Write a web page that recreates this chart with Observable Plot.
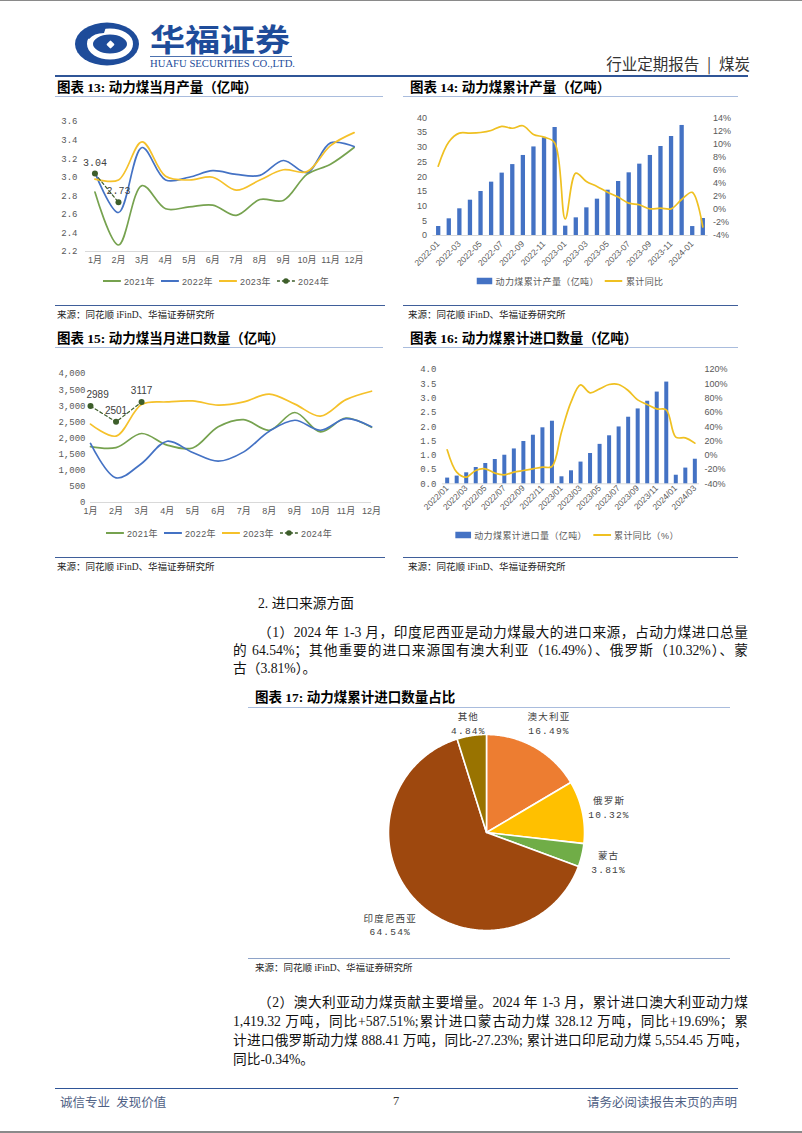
<!DOCTYPE html>
<html lang="zh">
<head>
<meta charset="utf-8">
<script src="https://cdn.jsdelivr.net/npm/d3@7"></script>
<script src="https://cdn.jsdelivr.net/npm/@observablehq/plot@0.6"></script>
<style>
html,body{margin:0;padding:0;background:#fff}
#page{position:relative;width:802px;height:1133px;overflow:hidden;background:#fff;font-family:"Liberation Serif","Noto Sans CJK SC",serif;color:#111}
.a{position:absolute;white-space:nowrap}
.hr{position:absolute;height:0}
.ttl{font-weight:bold;font-size:13.5px;line-height:14px;color:#000;transform:translateY(-50%)}
.src{font-size:9.5px;line-height:10px;color:#222;transform:translateY(-50%)}
.leg{position:absolute;display:flex;align-items:center;transform:translate(-50%,-50%);font-family:"Liberation Sans","Noto Sans CJK SC",sans-serif;font-size:9px;color:#595959;white-space:nowrap;letter-spacing:.4px}
.leg .it{display:flex;align-items:center;margin:0 3px}
.leg svg{margin-right:3px;display:block}
.pl{position:absolute}
.txt{position:absolute;font-size:13.7px;line-height:16px;text-align:justify;text-align-last:justify;white-space:nowrap;transform:translateY(-50%)}
.txt.last{text-align-last:left}
.foot{font-size:12.5px;color:#4f6185;transform:translateY(-50%)}
</style>
</head>
<body>
<div id="page">
  <div class="hr" style="left:0;top:0;width:802px;border-top:1.5px solid #8a8a8a"></div>
  <div class="hr" style="left:0;top:1131px;width:802px;border-top:2px solid #8a8a8a"></div>
  <svg class="a" style="left:0;top:0" width="802" height="80">
    <ellipse cx="107" cy="44" rx="32" ry="21.5" fill="#1E4C9A"/>
    <ellipse cx="110" cy="44" rx="20" ry="12.5" fill="none" stroke="#fff" stroke-width="6"/>
    <path d="M84 36 Q92 26 106 27 L104 33 Q94 33 89 39 Z" fill="#1E4C9A"/>
    <rect x="105" y="39" width="11" height="11" rx="2" transform="rotate(45 110.5 44.5)" fill="#1E4C9A"/>
    <rect x="107.5" y="41.5" width="6" height="6" rx="1" transform="rotate(45 110.5 44.5)" fill="#fff"/>
    <text x="150" y="51" font-family="Noto Sans CJK SC" font-weight="bold" font-size="31" fill="#1E4C9A" textLength="140" lengthAdjust="spacingAndGlyphs">华福证券</text>
    <line x1="150" y1="56.5" x2="292" y2="56.5" stroke="#1E4C9A" stroke-width="0.8"/>
    <text x="150" y="67" font-family="Liberation Serif" font-size="9.5" fill="#1E4C9A" textLength="145" lengthAdjust="spacingAndGlyphs">HUAFU SECURITIES CO.,LTD.</text>
    <text x="750" y="70" text-anchor="end" font-family="Noto Sans CJK SC" font-size="15.5" fill="#333">行业定期报告&#8194;|&#8194;煤炭</text>
  </svg>
  <div class="hr" style="left:55px;top:75px;width:693px;border-top:2px solid #2F5597"></div>

  <div class="a ttl" style="left:57px;top:88px">图表 13: 动力煤当月产量（亿吨）</div>
  <div class="a ttl" style="left:410px;top:88px">图表 14: 动力煤累计产量（亿吨）</div>
  <div class="hr" style="left:55px;top:96px;width:328px;border-top:1px solid #a9bcdd"></div>
  <div class="hr" style="left:403px;top:96px;width:335px;border-top:1px solid #a9bcdd"></div>

  <div class="hr" style="left:55px;top:305px;width:330px;border-top:1.5px solid #3f5e9a"></div>
  <div class="hr" style="left:403px;top:305px;width:335px;border-top:1.5px solid #3f5e9a"></div>
  <div class="a src" style="left:57px;top:315px">来源：同花顺 iFinD、华福证券研究所</div>
  <div class="a src" style="left:408px;top:315px">来源：同花顺 iFinD、华福证券研究所</div>

  <div class="a ttl" style="left:57px;top:339px">图表 15: 动力煤当月进口数量（亿吨）</div>
  <div class="a ttl" style="left:410px;top:339px">图表 16: 动力煤累计进口数量（亿吨）</div>
  <div class="hr" style="left:55px;top:347px;width:328px;border-top:1px solid #a9bcdd"></div>
  <div class="hr" style="left:403px;top:347px;width:335px;border-top:1px solid #a9bcdd"></div>

  <div class="hr" style="left:55px;top:557px;width:330px;border-top:1.5px solid #3f5e9a"></div>
  <div class="hr" style="left:403px;top:557px;width:335px;border-top:1.5px solid #3f5e9a"></div>
  <div class="a src" style="left:57px;top:567px">来源：同花顺 iFinD、华福证券研究所</div>
  <div class="a src" style="left:408px;top:567px">来源：同花顺 iFinD、华福证券研究所</div>

  <div class="a txt last" style="left:258px;top:604px">2. 进口来源方面</div>
  <div class="a txt" style="left:258px;top:633px;width:490px">（1）2024 年 1-3 月，印度尼西亚是动力煤最大的进口来源，占动力煤进口总量</div>
  <div class="a txt" style="left:233px;top:651px;width:515px">的 64.54%；其他重要的进口来源国有澳大利亚（16.49%）、俄罗斯（10.32%）、蒙</div>
  <div class="a txt last" style="left:233px;top:669px">古（3.81%）。</div>

  <div class="a ttl" style="left:255px;top:698px">图表 17: 动力煤累计进口数量占比</div>
  <div class="hr" style="left:248px;top:707px;width:482px;border-top:1px solid #a9bcdd"></div>

  <div class="hr" style="left:248px;top:958px;width:482px;border-top:1.5px solid #8ea3c8"></div>
  <div class="a src" style="left:255px;top:968px">来源：同花顺 iFinD、华福证券研究所</div>

  <div class="a txt" style="left:258px;top:1003px;width:490px">（2）澳大利亚动力煤贡献主要增量。2024 年 1-3 月，累计进口澳大利亚动力煤</div>
  <div class="a txt" style="left:233px;top:1022px;width:515px">1,419.32 万吨，同比+587.51%;累计进口蒙古动力煤 328.12 万吨，同比+19.69%；累</div>
  <div class="a txt" style="left:233px;top:1041px;width:515px">计进口俄罗斯动力煤 888.41 万吨，同比-27.23%; 累计进口印尼动力煤 5,554.45 万吨，</div>
  <div class="a txt last" style="left:233px;top:1060px">同比-0.34%。</div>

  <div class="hr" style="left:55px;top:1088px;width:683px;border-top:1px solid #2F5597"></div>
  <div class="a foot" style="left:60px;top:1101px">诚信专业&nbsp;&nbsp;发现价值</div>
  <div class="a foot" style="left:393px;top:1101px;color:#333">7</div>
  <div class="a foot" style="left:587px;top:1101px">请务必阅读报告末页的声明</div>
</div>
<script>
// ---------------- data ----------------
const monthNums = [1,2,3,4,5,6,7,8,9,10,11,12];
const monthLabels = ["1月","2月","3月","4月","5月","6月","7月","8月","9月","10月","11月","12月"];
const yearNames = ["2021年","2022年","2023年","2024年"];

// 图表13 动力煤当月产量（亿吨）
const prod2021 = [2.84,2.27,2.91,2.66,2.68,2.70,2.59,2.76,2.75,3.03,3.14,3.32];
const prod2022 = [3.05,2.62,3.32,2.97,3.00,3.07,3.03,3.02,3.18,3.05,3.37,3.33];
const prod2023 = [2.98,2.97,3.38,3.01,2.97,3.00,2.86,2.97,3.08,3.06,3.34,3.48];
const prod2024 = [3.04,2.73];
const ticks13 = [2.2,2.4,2.6,2.8,3.0,3.2,3.4,3.6];

// 图表15 动力煤当月进口数量（万吨）
const imp2021 = [1730,1700,2140,1780,1690,2350,2570,2240,2790,2190,2620,2330];
const imp2022 = [1830,765,1210,1900,1550,1280,1570,2210,2550,2240,2600,2350];
const imp2023 = [2430,2060,3040,3120,3150,3020,3120,3360,3050,2680,3190,3450];
const imp2024 = [2989,2501,3117];
const ticks15 = [0,500,1000,1500,2000,2500,3000,3500,4000];

// 图表14 动力煤累计产量
const months14 = ["2022-01","2022-02","2022-03","2022-04","2022-05","2022-06","2022-07","2022-08","2022-09","2022-10","2022-11","2022-12",
  "2023-01","2023-02","2023-03","2023-04","2023-05","2023-06","2023-07","2023-08","2023-09","2023-10","2023-11","2023-12","2024-01","2024-02"];
const cumProd = [3.05,5.67,9.07,12.0,14.96,18.13,21.2,24.1,27.2,30.1,33.2,36.7,3.17,6.0,9.4,12.35,15.4,18.36,21.3,24.25,27.2,30.25,33.65,37.4,3.04,5.77];
const cumProdYoY = [6.6,10.3,11.65,11.65,11.75,12.06,12.7,12.4,12.78,11.45,11.05,10.2,-1.45,5.54,4.26,3.5,2.63,1.87,0.95,0.7,0.08,0.18,0.08,1.5,2.6,-2.7];
const ticks14L = [0,5,10,15,20,25,30,35,40];
const ticks14R = [-4,-2,0,2,4,6,8,10,12,14];
const xTicks14 = [0,2,4,6,8,10,12,14,16,18,20,22,24];

// 图表16 动力煤累计进口数量
const months16 = ["2022/01","2022/02","2022/03","2022/04","2022/05","2022/06","2022/07","2022/08","2022/09","2022/10","2022/11","2022/12",
  "2023/01","2023/02","2023/03","2023/04","2023/05","2023/06","2023/07","2023/08","2023/09","2023/10","2023/11","2023/12","2024/01","2024/02","2024/03"];
const cumImp = [0.20,0.27,0.385,0.57,0.71,0.85,1.00,1.22,1.48,1.70,1.96,2.19,0.245,0.455,0.76,1.06,1.38,1.68,1.99,2.33,2.62,2.89,3.21,3.56,0.30,0.55,0.86];
const cumImpYoY = [7.6,-23.7,-30.7,-21.3,-19,-25,-27.4,-23.7,-21.4,-19,-16.7,-15.8,32.3,74.3,98.5,87.3,92.9,99,99,90.6,77.5,71,64.8,63.5,25.3,24.3,16.9];
const ticks16L = [0,0.5,1.0,1.5,2.0,2.5,3.0,3.5,4.0];
const ticks16R = [-40,-20,0,20,40,60,80,100,120];
const xTicks16 = [0,2,4,6,8,10,12,14,16,18,20,22,24,26];

// 图表17 动力煤累计进口数量占比
const pieNames = ["澳大利亚","俄罗斯","蒙古","印度尼西亚","其他"];
const pieShares = [16.49,10.32,3.81,64.54,4.84];

// ---------------- styles ----------------
const lineColors = ["#76A24F","#4472C4","#F5C12A"];
const c2024 = "#3D5E2A";
const BAR = "#4472C4";
const GOLD = "#EFC021";
const pieColors = ["#ED7D31","#FFC000","#70AD47","#9E480E","#997300"];
const SANS = "'Liberation Sans','Noto Sans CJK SC',sans-serif";
const MONO = "'Liberation Mono','Noto Sans CJK SC',monospace";
const baseStyle = {fontFamily: SANS, fontSize: "9px", color: "#595959", background: "transparent", overflow: "visible"};

const page = document.getElementById("page");
function place(node, left, top) {
  const d = document.createElement("div");
  d.className = "pl"; d.style.left = left + "px"; d.style.top = top + "px";
  d.appendChild(node); page.appendChild(d); return d;
}
function setAttr(svg, sel, attr, val) { svg.querySelectorAll(sel).forEach(g => g.setAttribute(attr, val)); }

// ---------------- line charts (13, 15) ----------------
function monthlyChart({left, top, width, height, mL, mR, mT, mB, xDomain, yDomain, yTicks, yFmt, yPad, series, s2024, lab2024, labFont, firstShift}) {
  const data = [];
  series.forEach((vals, k) => vals.forEach((v, i) => data.push({m: monthNums[i], v, name: yearNames[k]})));
  const d24 = s2024.map((v, i) => ({m: monthNums[i], v, first: i === 0}));
  const labelStyle = {x: "m", y: "v", text: lab2024, dy: -11, fontSize: 10, fill: "#404040", fontFamily: labFont};
  const p = Plot.plot({
    width, height, marginLeft: mL, marginRight: mR, marginTop: mT, marginBottom: mB,
    x: {domain: xDomain, ticks: monthNums, tickFormat: m => monthLabels[m - 1], tickSize: 0, tickPadding: 5, label: null},
    y: {domain: yDomain, ticks: yTicks, tickFormat: yFmt, tickSize: 0, tickPadding: yPad, label: null},
    color: {domain: yearNames.slice(0, 3), range: lineColors},
    style: baseStyle,
    marks: [
      Plot.ruleY([yDomain[0]], {stroke: "#d9d9d9"}),
      Plot.line(data, {x: "m", y: "v", z: "name", stroke: "name", strokeWidth: 1.7, curve: "catmull-rom"}),
      Plot.line(d24, {x: "m", y: "v", stroke: c2024, strokeWidth: 1.2, strokeDasharray: "3,2.5"}),
      Plot.dot(d24, {x: "m", y: "v", r: 3, fill: c2024}),
      firstShift
        ? [Plot.text(d24, {...labelStyle, filter: d => d.first, textAnchor: "start", dx: firstShift}),
           Plot.text(d24, {...labelStyle, filter: d => !d.first})]
        : Plot.text(d24, labelStyle)
    ]
  });
  setAttr(p, 'g[aria-label="y-axis tick label"]', "font-family", MONO);
  place(p, left, top);
}

monthlyChart({left: 55, top: 100, width: 330, height: 170, mL: 30, mR: 22, mT: 21, mB: 19,
  xDomain: [0.6, 12.4], yDomain: [2.2, 3.6], yTicks: ticks13, yFmt: d3.format(".1f"), yPad: 8,
  series: [prod2021, prod2022, prod2023], s2024: prod2024, lab2024: d => d.v.toFixed(2), labFont: MONO, firstShift: 0});

monthlyChart({left: 55, top: 350, width: 330, height: 175, mL: 35, mR: 14, mT: 23, mB: 23,
  xDomain: [1, 12], yDomain: [0, 4000], yTicks: ticks15, yFmt: d3.format(","), yPad: 5,
  series: [imp2021, imp2022, imp2023], s2024: imp2024, lab2024: d => String(d.v), labFont: SANS, firstShift: -4});

// ---------------- bar + line charts (14, 16) ----------------
function dualChart({left, top, width, height, mL, mR, mT, mB, labels, xTicks, xPad, bars, yoy, yL, yLTicks, yLFmt, yR, yRTicks, yRFmt, barW, monoLeft}) {
  const bd = bars.map((v, i) => ({i, v}));
  const ld = yoy.map((v, i) => ({i, v}));
  const dims = {width, height, marginLeft: mL, marginRight: mR, marginTop: mT, marginBottom: mB, style: baseStyle};
  const xd = [-0.5, labels.length - 0.5];
  const p1 = Plot.plot({...dims,
    x: {domain: xd, ticks: xTicks, tickFormat: i => labels[i], tickRotate: -45, tickSize: 0, tickPadding: xPad, label: null},
    y: {domain: yL, ticks: yLTicks, tickFormat: yLFmt, tickSize: 0, tickPadding: 6, label: null},
    marks: [
      Plot.ruleY([0], {stroke: "#d9d9d9"}),
      Plot.ruleX(bd, {x: "i", y1: 0, y2: "v", stroke: BAR, strokeWidth: barW})
    ]
  });
  const p2 = Plot.plot({...dims,
    x: {domain: xd, axis: null},
    y: {domain: yR, ticks: yRTicks, tickFormat: yRFmt, axis: "right", tickSize: 0, tickPadding: 5, label: null},
    marks: [Plot.line(ld, {x: "i", y: "v", stroke: GOLD, strokeWidth: 1.7, curve: "catmull-rom"})]
  });
  setAttr(p1, 'g[aria-label="x-axis tick label"]', "font-size", "8.5");
  if (monoLeft) setAttr(p1, 'g[aria-label="y-axis tick label"]', "font-family", MONO);
  place(p1, left, top);
  place(p2, left, top);
}

dualChart({left: 400, top: 100, width: 350, height: 172, mL: 32.4, mR: 42.4, mT: 17.3, mB: 37,
  labels: months14, xTicks: xTicks14, xPad: 7, bars: cumProd, yoy: cumProdYoY,
  yL: [0, 40], yLTicks: ticks14L, yLFmt: d => String(d), yR: [-4, 14], yRTicks: ticks14R, yRFmt: d => d + "%", barW: 4.3, monoLeft: false});

dualChart({left: 400, top: 350, width: 350, height: 170, mL: 41.9, mR: 50.9, mT: 19, mB: 36.7,
  labels: months16, xTicks: xTicks16, xPad: 3, bars: cumImp, yoy: cumImpYoY,
  yL: [0, 4], yLTicks: ticks16L, yLFmt: d3.format(".1f"), yR: [-40, 120], yRTicks: ticks16R, yRFmt: d => d + "%", barW: 4, monoLeft: true});

// ---------------- pie (17) ----------------
const pieArcs = d3.pie().sort(null).value(d => d)(pieShares);
const R = 98;
const sliceFeatures = pieArcs.map((a, i) => {
  const n = Math.max(4, Math.ceil((a.endAngle - a.startAngle) / 0.01));
  const ring = [[0, 0]];
  for (let k = 0; k <= n; k++) {
    const t = a.startAngle + (a.endAngle - a.startAngle) * k / n;
    ring.push([Math.sin(t), -Math.cos(t)]);
  }
  ring.push([0, 0]);
  return {type: "Feature", properties: {name: pieNames[i]}, geometry: {type: "Polygon", coordinates: [ring]}};
});
const unitCircle = {type: "Polygon", coordinates: [d3.range(0, 361, 3).map(g => [Math.sin(g * Math.PI / 180), -Math.cos(g * Math.PI / 180)])]};
const pieLabels = pieArcs.map((a, i) => {
  const mid = (a.startAngle + a.endAngle) / 2;
  const ux = Math.sin(mid), uy = -Math.cos(mid);
  const pct = pieShares[i].toFixed(2) + "%";
  const hw = Math.max(pieNames[i].length * 11, 38) / 2, hh = 13;
  const dist = (R + 6 + Math.abs(ux) * hw + Math.abs(uy) * hh) / R;
  return {x: ux * dist, y: Math.max(uy * dist, -1.12), t: pieNames[i] + "\n" + pct};
});
const pie = Plot.plot({
  width: 312, height: 250, marginLeft: 58, marginRight: 58, marginTop: 29, marginBottom: 25,
  projection: {type: "identity", domain: unitCircle, clip: false},
  color: {domain: pieNames, range: pieColors},
  style: {...baseStyle, color: "#404040"},
  marks: [
    Plot.geo(sliceFeatures, {fill: d => d.properties.name, stroke: "white", strokeWidth: 1.6}),
    Plot.text(pieLabels, {x: "x", y: "y", text: "t", fontSize: 9.5, lineHeight: 1.45, fill: "#404040", fontFamily: MONO})
  ]
});
pie.querySelectorAll("text").forEach(t => t.style.letterSpacing = "1.2px");
place(pie, 330, 705);

// ---------------- legends ----------------
function legend(cx, cy, items) {
  const d = document.createElement("div");
  d.className = "leg"; d.style.left = cx + "px"; d.style.top = cy + "px";
  d.innerHTML = items.map(it => {
    let icon;
    if (it.kind === "bar") icon = `<svg width="16" height="7"><rect x="0" y="0" width="16" height="7" fill="${it.color}"/></svg>`;
    else if (it.kind === "dash") icon = `<svg width="18" height="7"><line x1="0" y1="3.5" x2="18" y2="3.5" stroke="${it.color}" stroke-width="1.3" stroke-dasharray="3,2"/><circle cx="9" cy="3.5" r="2.8" fill="${it.color}"/></svg>`;
    else icon = `<svg width="18" height="7"><line x1="0" y1="3.5" x2="18" y2="3.5" stroke="${it.color}" stroke-width="1.8"/></svg>`;
    return `<span class="it">${icon}<span>${it.label}</span></span>`;
  }).join("");
  page.appendChild(d);
}
const yearLegend = [
  {kind: "line", color: lineColors[0], label: yearNames[0]},
  {kind: "line", color: lineColors[1], label: yearNames[1]},
  {kind: "line", color: lineColors[2], label: yearNames[2]},
  {kind: "dash", color: c2024, label: yearNames[3]}
];
legend(216, 281, yearLegend);
legend(219, 533, yearLegend);
legend(570, 281, [{kind: "bar", color: BAR, label: "动力煤累计产量（亿吨）"}, {kind: "line", color: GOLD, label: "累计同比"}]);
legend(567, 535, [{kind: "bar", color: BAR, label: "动力煤累计进口量（亿吨）"}, {kind: "line", color: GOLD, label: "累计同比（%）"}]);
</script>
</body>
</html>
